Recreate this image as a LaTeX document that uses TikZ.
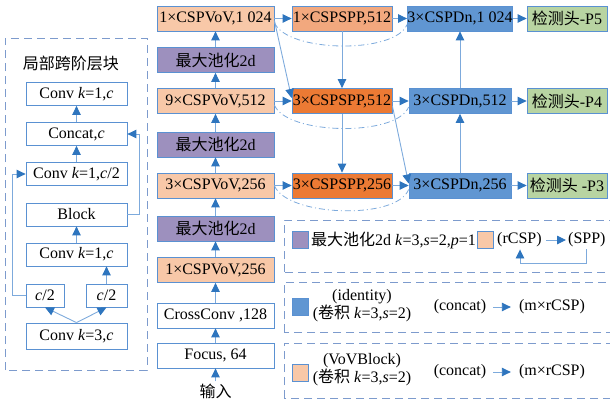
\documentclass[tikz,border=0pt]{standalone}
\usepackage{fontspec}
\setmainfont{Liberation Serif}
\newfontfamily\cjk{Noto Sans CJK SC}
\usetikzlibrary{arrows.meta,positioning}
\definecolor{lineblue}{RGB}{125,170,220}
\definecolor{tipblue}{RGB}{46,117,190}
\definecolor{edgeblue}{RGB}{90,145,210}
\definecolor{dashblue}{RGB}{125,155,205}
\definecolor{vovpeach}{RGB}{248,200,168}
\definecolor{poolpurple}{RGB}{157,144,190}
\definecolor{spplight}{RGB}{242,168,126}
\definecolor{sppdark}{RGB}{236,122,52}
\definecolor{dnblue}{RGB}{96,150,210}
\definecolor{headgreen}{RGB}{184,212,162}
\begin{document}
\begin{tikzpicture}[x=1pt,y=1pt,
  every node/.style={font=\fontsize{16}{18}\selectfont,inner sep=2pt},
  blk/.style={draw=edgeblue,line width=0.8pt,minimum height=25pt,inner sep=0pt},
  vov/.style={blk,fill=vovpeach,minimum width=117pt},
  pool/.style={blk,fill=poolpurple,minimum width=117pt},
  plainbox/.style={blk,fill=white,minimum width=117pt},
  spp/.style={blk,fill=sppdark,minimum width=100pt},
  dn/.style={blk,fill=dnblue,minimum width=102pt},
  head/.style={blk,fill=headgreen,minimum width=80pt},
  lbox/.style={blk,fill=white,minimum width=101pt,minimum height=23pt},
  sq/.style={draw=edgeblue,line width=0.6pt,minimum width=16pt,minimum height=17pt,inner sep=0pt},
  arr/.style={draw=lineblue,line width=0.9pt,-{Triangle[length=9pt,width=8.5pt,color=tipblue]}},
  loopline/.style={draw=lineblue,line width=0.8pt,dash pattern=on 6pt off 3pt on 1pt off 3pt},
  dashbox/.style={draw=dashblue,line width=0.8pt,dash pattern=on 8pt off 5pt}]
\useasboundingbox (0,0) rectangle (610,400);
% backbone
\node[vov] (v1024) at (215.5,381.5) {1×CSPVoV,1 024};
\node[pool] (p3) at (215.5,340) {{\cjk 最大池化}2d};
\node[vov] (v512) at (215.5,299) {9×CSPVoV,512};
\node[pool] (p2) at (215.5,255.5) {{\cjk 最大池化}2d};
\node[vov] (v256) at (215.5,214.5) {3×CSPVoV,256};
\node[pool] (p1) at (215.5,171.5) {{\cjk 最大池化}2d};
\node[vov] (v256a) at (215.5,130) {1×CSPVoV,256};
\node[plainbox] (cross) at (215.5,84.5) {CrossConv ,128};
\node[plainbox] (focus) at (215.5,44.5) {Focus, 64};
\node (inp) at (215.5,9) {\cjk 输入};
\foreach \a/\b in {inp/focus,focus/cross,cross/v256a,v256a/p1,p1/v256,v256/p2,p2/v512,v512/p3,p3/v1024}
  \draw[arr] (\a) -- (\b);
% neck and heads
\node[spp,fill=spplight] (s1) at (342,381.5) {1×CSPSPP,512};
\node[spp] (s2) at (342,299) {3×CSPSPP,512};
\node[spp] (s3) at (342,214.5) {3×CSPSPP,256};
\node[dn] (d1) at (460,381.5) {3×CSPDn,1 024};
\node[dn] (d2) at (460,299) {3×CSPDn,512};
\node[dn] (d3) at (460,214.5) {3×CSPDn,256};
\node[head] (h1) at (567,381.5) {{\cjk 检测头}-P5};
\node[head] (h2) at (567,299) {{\cjk 检测头}-P4};
\node[head] (h3) at (567,214.5) {{\cjk 检测头} -P3};
\foreach \a/\b in {v1024/s1,v512/s2,v256/s3,s1/d1,s2/d2,s3/d3,d1/h1,d2/h2,d3/h3,s1/s2,s2/s3,d3/d2,d2/d1}
  \draw[arr] (\a) -- (\b);
\draw[arr] ([yshift=-2pt]v1024.east) -- ([yshift=3pt]s2.west);
\draw[arr] ([yshift=-5pt]s2.east) -- ([yshift=2pt]d3.west);
\draw[loopline] ([yshift=-4pt]v1024.east) .. controls +(12,-30) and +(-12,-30) .. ([yshift=-6pt]d1.west);
\draw[loopline] ([yshift=-4pt]v512.east) .. controls +(12,-30) and +(-12,-30) .. ([yshift=-6pt]d2.west);
\draw[loopline] (v256.east) .. controls +(12,-31) and +(-12,-31) .. ([yshift=-4pt]d3.west);
% partial cross stage block
\draw[dashbox] (5,30) rectangle (147,362);
\node (ttl) at (71,337) {\cjk 局部跨阶层块};
\node[lbox] (c1) at (76.5,306) {Conv \textit{k}=1,\textit{c}};
\node[lbox] (cat) at (76.5,266) {Concat,\textit{c}};
\node[lbox] (c2) at (76.5,226) {Conv \textit{k}=1,\textit{c}/2};
\node[lbox] (blk) at (76.5,185.5) {Block};
\node[lbox] (c3) at (76.5,145.5) {Conv \textit{k}=1,\textit{c}};
\node[lbox,minimum width=38pt] (hl) at (45,104.5) {\textit{c}/2};
\node[lbox,minimum width=41pt] (hr) at (106.5,104.5) {\textit{c}/2};
\node[lbox,minimum height=26pt] (c4) at (76.5,64) {Conv \textit{k}=3,\textit{c}};
\draw[arr] (c4.north) -- (hl.south);
\draw[arr] (c4.north) -- (hr.south);
\draw[arr] (hr.north) -- (hr.north |- c3.south);
\draw[arr] (c3) -- (blk);
\draw[arr] (c2) -- (cat);
\draw[arr] (cat) -- (c1);
\draw[arr] (hl.west) -- ++(-13,0) |- (c2.west);
\draw[arr] (blk.east) -- ++(12,0) |- (cat.east);
% legends
\draw[dashbox] (284,128) rectangle (620,180);
\node[sq,fill=poolpurple] (lg1) at (300,160) {};
\node[anchor=west,inner sep=0pt] (lt1) at (311,160) {{\cjk 最大池化}2d \textit{k}=3,\textit{s}=2,\textit{p}=1};
\node[sq,fill=vovpeach] (lg2) at (485,160) {};
\node[anchor=west] (rcsp) at (495,160) {(rCSP)};
\node[anchor=west] (sppl) at (566,160) {(SPP)};
\coordinate (loopc) at (520,137);
\draw[arr,shorten <=2pt] (rcsp) -- (sppl);
\draw[arr] (sppl.south) |- (loopc) -- (loopc |- rcsp.south);
\draw[dashbox] (284,68) rectangle (620,118);
\node[sq,fill=dnblue] (lg3) at (300,93) {};
\node[align=center] (idt) at (362,94) {(identity)\\({\cjk 卷积} \textit{k}=3,\textit{s}=2)};
\node (cc1) at (460,93) {(concat)};
\node (mr1) at (552,93) {(m×rCSP)};
\draw[arr,shorten <=5pt,shorten >=6pt] (cc1) -- (mr1);
\draw[dashbox] (284,2) rectangle (620,57);
\node[sq,fill=vovpeach] (lg4) at (300,27) {};
\node[align=center] (vov) at (362,30) {(VoVBlock)\\({\cjk 卷积} \textit{k}=3,\textit{s}=2)};
\node (cc2) at (460,28) {(concat)};
\node (mr2) at (552,28) {(m×rCSP)};
\draw[arr,shorten <=5pt,shorten >=6pt] (cc2) -- (mr2);
\end{tikzpicture}
\end{document}
